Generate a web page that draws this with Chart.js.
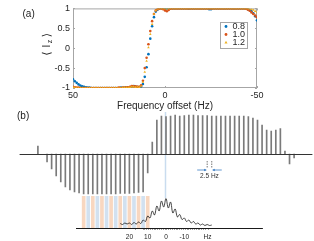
<!DOCTYPE html>
<html>
<head>
<meta charset="utf-8">
<title>Iz vs frequency offset</title>
<script src="https://cdn.jsdelivr.net/npm/chart.js@4.4.1/dist/chart.umd.min.js"></script>
<style>
  html, body { margin: 0; padding: 0; background: #fff; }
  #wrap { position: relative; width: 314px; height: 241px; overflow: hidden; }
  #wrap canvas { position: absolute; left: 0; }
</style>
</head>
<body>
<div id="wrap">
  <canvas id="chartA" width="314" height="112" style="top:0;width:314px;height:112px"></canvas>
  <canvas id="chartB" width="314" height="90" style="top:110px;width:314px;height:90px"></canvas>
  <canvas id="chartC" width="314" height="51" style="top:190px;width:314px;height:51px"></canvas>
</div>
<script>
// (a) <Iz> against frequency offset, three pulse scalings
const freqA = [
  50, 49, 48, 47, 46, 45, 44, 43, 42, 41,
  40, 39, 38, 37, 36, 35, 34, 33, 32, 31,
  30, 29, 28, 27, 26, 25, 24, 23, 22, 21,
  20, 19, 18, 17, 16, 15, 14, 13, 12, 11,
  10, 9, 8, 7, 6, 5, 4, 3, 2, 1,
  0, -1, -2, -3, -4, -5, -6, -7, -8, -9,
  -10, -11, -12, -13, -14, -15, -16, -17, -18, -19,
  -20, -21, -22, -23, -24, -25, -26, -27, -28, -29,
  -30, -31, -32, -33, -34, -35, -36, -37, -38, -39,
  -40, -41, -42, -43, -44, -45, -46, -47, -48, -49,
  -50
];
const iz08 = [
  -0.78, -0.83, -0.87, -0.91, -0.94, -0.96, -0.97, -0.98, -0.99, -0.99,
  -1, -1, -1, -1, -1, -1, -1, -1, -1, -1,
  -1, -1, -1, -1, -1, -1, -0.99, -0.99, -0.99, -0.98,
  -0.98, -0.98, -0.96, -0.95, -0.97, -0.97, -0.98, -0.96, -0.9, -0.72,
  -0.48, -0.15, 0.24, 0.55, 0.78, 0.92, 0.97, 0.99, 1, 1,
  1, 1, 1, 0.99, 1, 1, 1, 1, 1, 1,
  1, 1, 1, 0.99, 1, 1, 1, 1, 1, 1,
  1, 1, 1, 1, 0.98, 0.98, 1, 1, 1, 1,
  1, 1, 1, 1, 1, 1, 1, 1, 1, 1,
  1, 1, 1, 1, 0.99, 0.98, 0.96, 0.93, 0.88, 0.8,
  0.7
];
const iz10 = [
  -0.97, -0.98, -0.99, -0.99, -1, -1, -1, -1, -1, -1,
  -1, -1, -1, -1, -1, -1, -1, -1, -1, -1,
  -1, -1, -1, -1, -1, -0.99, -1, -0.99, -0.99, -0.98,
  -0.98, -0.97, -0.95, -0.96, -0.96, -0.97, -0.97, -0.93, -0.82, -0.5,
  -0.24, 0.1, 0.43, 0.68, 0.86, 0.95, 0.98, 0.99, 1, 0.98,
  0.95, 0.93, 0.96, 0.99, 1, 1, 1, 1, 1, 1,
  1, 1, 1, 1, 1, 1, 1, 1, 1, 1,
  1, 1, 1, 1, 1, 1, 1, 1, 1, 1,
  1, 1, 1, 1, 1, 1, 1, 1, 1, 1,
  1, 1, 1, 1, 0.99, 0.97, 0.94, 0.9, 0.86, 0.82,
  0.78
];
const iz12 = [
  -0.98, -0.99, -1, -1, -1, -1, -1, -1, -1, -1,
  -1, -1, -1, -1, -1, -1, -1, -1, -1, -1,
  -1, -1, -1, -1, -1, -1, -1, -0.99, -0.99, -0.99,
  -0.99, -0.98, -0.97, -0.97, -0.98, -0.97, -0.98, -0.95, -0.85, -0.6,
  -0.32, 0.02, 0.35, 0.6, 0.86, 0.95, 0.99, 1, 1, 1,
  1, 1, 1, 1, 1, 1, 1, 1, 1, 1,
  1, 1, 1, 1, 1, 1, 1, 1, 1, 1,
  1, 1, 1, 1, 1, 1, 1, 1, 1, 1,
  1, 1, 1, 1, 1, 1, 1, 1, 1, 1,
  1, 1, 1, 1, 1, 1, 0.99, 0.98, 0.96, 0.93,
  0.9
];
const seriesLabels = ['0.8', '1.0', '1.2'];
const xTicksA = [50, 0, -50];
const yTicksA = [-1, -0.5, 0, 0.5, 1];

// (b) stick spectrum (Hz, arbitrary amplitude)
const stickFreq = [
  70, 65, 62.5, 60, 57.5, 55, 52.5, 50, 47.5, 45, 42.5, 40, 37.5, 35, 32.5, 30,
  27.5, 25, 22.5, 20, 17.5, 15, 12.5, 10, 7.5, 5, 2.5, 0, -2.5, -5, -7.5, -10,
  -12.5, -15, -17.5, -20, -22.5, -25, -27.5, -30, -32.5, -35, -37.5, -40, -42.5, -45,
  -47.5, -50, -52.5, -55, -57.5, -60, -62.5, -65, -67.5, -70
];
const stickAmp = [
  8, -8, -15, -22, -28, -33, -36, -38, -39, -40, -40, -40, -40, -40, -40, -40,
  -40, -39.5, -39.5, -39.5, -39, -38.5, -38, -19, 12, 34, 38, 37.5, 38, 39, 38, 38.5,
  39, 39, 38.5, 38.5, 38.5, 38, 38, 38, 38, 38, 38, 38, 38, 37.5,
  36, 34, 29, 24, 23, 24, 25.5, 3, -10, -4
];

// inset: excitation band stripes and measured profile
const stripeFreq = [45, 42.5, 40, 37.5, 35, 32.5, 30, 27.5, 25, 22.5, 20, 17.5, 15, 12.5, 10];
const stripeLevel = [32, 32, 32, 32, 32, 32, 32, 32, 32, 32, 32, 32, 32, 32, 32];
const insetFreq = [
  25, 23.75, 22.5, 21.25, 20, 18.75, 17.5, 16.25, 15, 13.75, 12.5, 11.25, 10, 8.75,
  7.5, 6.25, 5, 3.75, 2.5, 1.25, 0, -1.25, -2.5, -3.75, -5, -6.25, -7.5, -8.75,
  -10, -11.25, -12.5, -13.75, -15, -16.25, -17.5, -18.75, -20, -21.25, -22.5, -23.75, -25
];
const insetAmp = [
  4.5, 3.5, 5, 4, 5, 3.5, 5.5, 4, 6, 4.5, 8, 6.5, 12, 10,
  17, 13, 22, 17, 27, 21, 29.5, 20, 26, 15, 19, 11, 13.5, 8.5,
  10, 6.5, 8, 5, 6.5, 4, 5, 3, 4, 2.5, 3.5, 2.5, 3
];
const insetTicks = [
  20, 13, 12, 11, 10, 9, 8, 7, 6, 5, 4, 3, 2, 1, 0, -1, -2, -3, -4, -5,
  -6, -7, -8, -9, -10, -11, -12, -13, -14, -15, -16, -17, -18, -19, -20, -21, -22, -22.7
];
const insetLabels = { '20': '20', '10': '10', '0': '0', '-10': '-10', '-22.7': 'Hz' };

Chart.defaults.font.family = "'Liberation Sans', Arial, Helvetica, sans-serif";

const axisGray = '#a6a6a6';
const textDark = '#262626';
const colors = ['#0072BD', '#D95319', '#EDB120'];
const toPts = (xs, ys) => xs.map((x, i) => ({ x: x, y: ys[i] }));

function marker(ctx, style, x, y, r, color) {
  ctx.fillStyle = color;
  ctx.beginPath();
  if (style === 'triangle') {
    ctx.moveTo(x, y - r * 1.2);
    ctx.lineTo(x + r * 1.1, y + r * 0.8);
    ctx.lineTo(x - r * 1.1, y + r * 0.8);
    ctx.closePath();
  } else {
    ctx.arc(x, y, r, 0, Math.PI * 2);
  }
  ctx.fill();
}

const panelADecor = {
  id: 'panelADecor',
  beforeDatasetsDraw(chart) {
    const { ctx, chartArea: a, scales } = chart;
    ctx.save();
    ctx.strokeStyle = axisGray;
    ctx.lineWidth = 1;
    ctx.strokeRect(a.left + 0.5, a.top + 0.5, a.right - a.left - 1, a.bottom - a.top - 1);
    ctx.beginPath();
    yTicksA.forEach(v => {
      const y = Math.round(scales.y.getPixelForValue(v)) + 0.5;
      ctx.moveTo(a.left, y); ctx.lineTo(a.left + 2, y);
      ctx.moveTo(a.right, y); ctx.lineTo(a.right - 2, y);
    });
    xTicksA.forEach(v => {
      const x = Math.round(scales.x.getPixelForValue(v)) + 0.5;
      ctx.moveTo(x, a.bottom); ctx.lineTo(x, a.bottom - 2);
      ctx.moveTo(x, a.top); ctx.lineTo(x, a.top + 2);
    });
    ctx.stroke();
    ctx.restore();
  },
  afterDraw(chart) {
    const ctx = chart.ctx;
    ctx.save();
    // legend
    ctx.fillStyle = '#fff';
    ctx.fillRect(220, 22, 27, 26);
    ctx.strokeStyle = axisGray;
    ctx.strokeRect(220.5, 22.5, 27, 26);
    const rows = [26.5, 34.5, 42.5];
    const styles = ['circle', 'circle', 'triangle'];
    ctx.font = "9px 'Liberation Sans', Arial, sans-serif";
    ctx.textBaseline = 'middle';
    rows.forEach((y, i) => {
      marker(ctx, styles[i], 226, y, 1.4, colors[i]);
      ctx.fillStyle = textDark;
      ctx.textAlign = 'left';
      ctx.fillText(seriesLabels[i], 232.5, y + 0.5);
    });
    // panel letter
    ctx.font = "10px 'Liberation Sans', Arial, sans-serif";
    ctx.fillStyle = '#222';
    ctx.fillText('(a)', 22.5, 14);
    // y title <I_z>
    ctx.translate(47, 44);
    ctx.rotate(-Math.PI / 2);
    ctx.textAlign = 'center';
    ctx.fillStyle = textDark;
    ctx.font = "11px 'DejaVu Sans', sans-serif";
    ctx.fillText('\u27E8', -9.5, 0);
    ctx.fillText('\u27E9', 9, 0);
    ctx.font = "10px 'Liberation Sans', Arial, sans-serif";
    ctx.fillText('I', -2, 0);
    ctx.font = "7px 'Liberation Sans', Arial, sans-serif";
    ctx.fillText('z', 2.5, 3);
    ctx.restore();
  }
};

new Chart(document.getElementById('chartA'), {
  type: 'scatter',
  data: {
    datasets: [
      { label: seriesLabels[0], data: toPts(freqA, iz08), pointStyle: 'circle', pointRadius: 1.3,
        backgroundColor: colors[0], borderColor: colors[0], borderWidth: 0, order: 3 },
      { label: seriesLabels[1], data: toPts(freqA, iz10), pointStyle: 'circle', pointRadius: 1.3,
        backgroundColor: colors[1], borderColor: colors[1], borderWidth: 0, order: 2 },
      { label: seriesLabels[2], data: toPts(freqA, iz12), pointStyle: 'triangle', pointRadius: 1.5,
        backgroundColor: colors[2], borderColor: colors[2], borderWidth: 0, order: 1 }
    ]
  },
  options: {
    responsive: false,
    animation: false,
    layout: { padding: { top: 6, right: 57, left: 0, bottom: 0 } },
    plugins: { legend: { display: false }, tooltip: { enabled: false } },
    scales: {
      x: {
        type: 'linear', reverse: true, min: -50, max: 50,
        afterBuildTicks: s => { s.ticks = xTicksA.map(v => ({ value: v })); },
        grid: { display: false, drawTicks: false },
        border: { display: false },
        ticks: { font: { size: 9 }, color: textDark, padding: 2, maxRotation: 0, autoSkip: false,
                 callback: v => String(v) },
        title: { display: true, text: 'Frequency offset (Hz)', font: { size: 10 }, color: textDark, padding: 0 },
        afterFit: s => { s.height = 24; }
      },
      y: {
        min: -1, max: 1,
        afterBuildTicks: s => { s.ticks = yTicksA.map(v => ({ value: v })); },
        grid: { display: false, drawTicks: false },
        border: { display: false },
        ticks: { font: { size: 9 }, color: textDark, padding: 3, autoSkip: false,
                 callback: v => String(v) },
        afterFit: s => { s.width = 73; }
      }
    }
  },
  plugins: [panelADecor]
});

const panelBDecor = {
  id: 'panelBDecor',
  beforeDatasetsDraw(chart) {
    const { ctx, scales } = chart;
    const x0 = scales.x.getPixelForValue(0) - 0.5;
    ctx.save();
    ctx.strokeStyle = '#c9dcef';
    ctx.lineWidth = 1.5;
    ctx.beginPath();
    ctx.moveTo(x0, 2);
    ctx.lineTo(x0, 88);
    ctx.stroke();
    ctx.restore();
  },
  afterDatasetsDraw(chart) {
    const { ctx, chartArea: a, scales } = chart;
    ctx.save();
    const y0 = Math.round(scales.y.getPixelForValue(0)) + 0.5;
    ctx.strokeStyle = '#333';
    ctx.lineWidth = 1;
    ctx.beginPath();
    ctx.moveTo(a.left, y0);
    ctx.lineTo(a.right, y0);
    ctx.stroke();

    // 2.5 Hz spacing marker
    const xa = scales.x.getPixelForValue(-22.5);
    const xb = scales.x.getPixelForValue(-25);
    ctx.strokeStyle = '#555';
    ctx.lineWidth = 0.8;
    ctx.setLineDash([1.5, 1]);
    ctx.beginPath();
    ctx.moveTo(xa, 51); ctx.lineTo(xa, 58);
    ctx.moveTo(xb, 51); ctx.lineTo(xb, 58);
    ctx.stroke();
    ctx.setLineDash([]);
    ctx.strokeStyle = ctx.fillStyle = '#3b7dc4';
    ctx.lineWidth = 0.8;
    ctx.beginPath();
    ctx.moveTo(xa - 10, 60); ctx.lineTo(xa - 1, 60);
    ctx.moveTo(xb + 10, 60); ctx.lineTo(xb + 1, 60);
    ctx.stroke();
    ctx.beginPath();
    ctx.moveTo(xa - 0.5, 60); ctx.lineTo(xa - 3, 58.8); ctx.lineTo(xa - 3, 61.2); ctx.closePath();
    ctx.moveTo(xb + 0.5, 60); ctx.lineTo(xb + 3, 58.8); ctx.lineTo(xb + 3, 61.2); ctx.closePath();
    ctx.fill();
    ctx.fillStyle = '#333';
    ctx.font = "6.5px 'Liberation Sans', Arial, sans-serif";
    ctx.textAlign = 'center';
    ctx.textBaseline = 'middle';
    ctx.fillText('2.5 Hz', (xa + xb) / 2, 66.5);

    ctx.font = "10px 'Liberation Sans', Arial, sans-serif";
    ctx.fillStyle = '#222';
    ctx.textAlign = 'left';
    ctx.fillText('(b)', 17, 6.5);
    ctx.restore();
  }
};

new Chart(document.getElementById('chartB'), {
  type: 'bar',
  data: {
    datasets: [{ data: toPts(stickFreq, stickAmp), backgroundColor: '#7a7a7a', borderWidth: 0, barThickness: 1 }]
  },
  options: {
    responsive: false,
    animation: false,
    layout: { padding: { left: 19.6, right: 1.6, top: 0, bottom: 0 } },
    plugins: { legend: { display: false }, tooltip: { enabled: false } },
    scales: {
      x: { type: 'linear', display: false, reverse: true, min: -80, max: 80, offset: false },
      y: { display: false, min: -46, max: 44 }
    }
  },
  plugins: [panelBDecor]
});

new Chart(document.getElementById('chartC'), {
  type: 'bar',
  data: {
    datasets: [
      { type: 'line', data: toPts(insetFreq, insetAmp), borderColor: '#1a1a1a', borderWidth: 0.8,
        pointRadius: 0, tension: 0.4, fill: false, order: 0 },
      { type: 'bar', data: toPts(stripeFreq, stripeLevel), barThickness: 3, borderWidth: 0, order: 1,
        backgroundColor: stripeFreq.map((f, i) => (i % 2 ? '#d2e1f0' : '#f8d7c0')) }
    ]
  },
  options: {
    responsive: false,
    animation: false,
    layout: { padding: { left: 76, right: 52, top: 6, bottom: 0 } },
    plugins: { legend: { display: false }, tooltip: { enabled: false } },
    scales: {
      x: {
        type: 'linear', reverse: true, min: -52.46, max: 49.18, offset: false,
        afterBuildTicks: s => { s.ticks = insetTicks.map(v => ({ value: v })); },
        ticks: {
          autoSkip: false, maxRotation: 0, padding: 3, color: '#222', font: { size: 6.5 },
          callback: v => insetLabels[String(v)] || ''
        },
        grid: {
          drawOnChartArea: false, drawTicks: true, tickLength: 2, lineWidth: 0.8,
          color: c => (c.tick && (c.tick.value === 20 || c.tick.value === -22.7) ? 'rgba(0,0,0,0)' : '#8c8c8c')
        },
        border: { display: true, color: '#1a1a1a', width: 1 },
        afterFit: s => { s.height = 13; }
      },
      y: { display: false, min: 0, max: 32 }
    }
  }
});
</script>
</body>
</html>
